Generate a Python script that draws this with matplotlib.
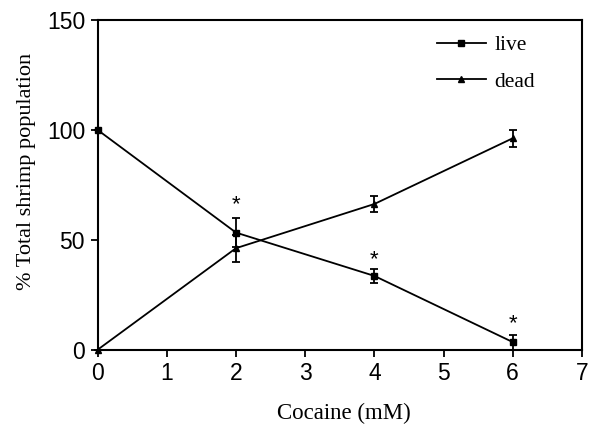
import matplotlib
matplotlib.use("Agg")
import matplotlib.pyplot as plt
from matplotlib.lines import Line2D

cocaine = [0, 2, 4, 6]
live = [100, 53.3, 33.6, 3.5]
live_err = [0, 6.5, 3.3, 3.4]
dead = [0, 46.2, 66.3, 96.2]
dead_err = [0, 6.2, 3.6, 3.8]
star_x = [2, 4, 6]
star_y = [66, 41, 12]

fig = plt.figure(figsize=(5.95, 4.25), dpi=100)
ax = fig.add_axes([0.164, 0.177, 0.814, 0.776])

ax.errorbar(cocaine, live, yerr=live_err, color="black", lw=1.3, marker="s",
            markersize=5, capsize=3, elinewidth=1.3, capthick=1.3,
            clip_on=False, zorder=3)
ax.errorbar(cocaine, dead, yerr=dead_err, color="black", lw=1.3, marker="^",
            markersize=4, capsize=3, elinewidth=1.3, capthick=1.3,
            clip_on=False, zorder=3)
for x, y in zip(star_x, star_y):
    ax.text(x, y, "*", ha="center", va="center", fontsize=16,
            family="Liberation Sans")

ax.set_xlim(0, 7)
ax.set_ylim(0, 150)
ax.set_xticks(range(0, 8))
ax.set_yticks([0, 50, 100, 150])
for sp in ax.spines.values():
    sp.set_linewidth(1.5)
ax.tick_params(direction="out", length=5, width=1.3, labelsize=16.5,
               top=False, right=False, pad=4)
for lbl in ax.get_xticklabels() + ax.get_yticklabels():
    lbl.set_family("Liberation Sans")

ax.set_xlabel("Cocaine (mM)", fontsize=16.5, family="Liberation Serif")
ax.set_ylabel("% Total shrimp population", fontsize=16, family="Liberation Serif")
ax.yaxis.set_label_coords(-0.128, 0.54)
ax.xaxis.set_label_coords(0.508, -0.16)

handles = [Line2D([], [], color="black", lw=1.3, marker="s", markersize=5),
           Line2D([], [], color="black", lw=1.3, marker="^", markersize=4)]
labels = ["live", "dead"]
ax.legend(handles, labels, loc="upper right", bbox_to_anchor=(0.943, 1.012),
          frameon=False, prop={"family": "Liberation Serif", "size": 15.5},
          handlelength=2.25, handletextpad=0.4, labelspacing=0.75)

fig.savefig("out.png", dpi=100)
